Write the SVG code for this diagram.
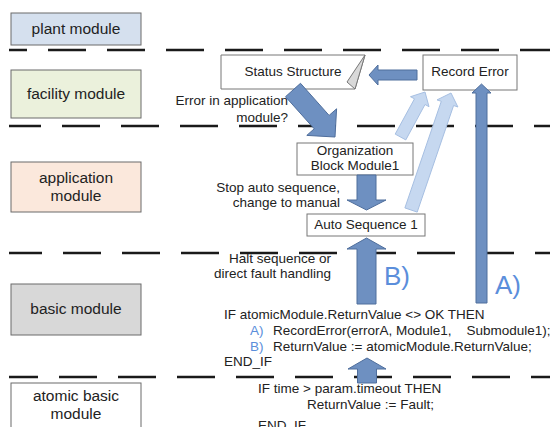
<svg xmlns="http://www.w3.org/2000/svg" width="550" height="427" viewBox="0 0 550 427">
<style>
text{font-family:"Liberation Sans",Arial,sans-serif;fill:#222}
.lab{font-size:15.5px;text-anchor:middle}
.t{font-size:13.5px}
.c{text-anchor:middle}
.e{text-anchor:end}
.big{font-size:26px;fill:#5b8edb}
.blue{fill:#5b8edb}
.lbox{stroke:#6b6b6b;stroke-width:1}
.rbox{fill:#fff;stroke:#777;stroke-width:1}
.dash{stroke:#1a1a1a;stroke-width:2.6;fill:none}
.dk{fill:#6e90c1;stroke:#4f6e9c;stroke-width:1}
.lt{fill:#c6d8f0;stroke:#a6bfe2;stroke-width:1}
</style>
<g id="separators">
<line class="dash" x1="9" y1="50" x2="550" y2="50" stroke-dasharray="38 21" stroke-dashoffset="20"/>
<line class="dash" x1="9" y1="126" x2="550" y2="126" stroke-dasharray="38 21" stroke-dashoffset="6"/>
<line class="dash" x1="9" y1="253" x2="550" y2="253" stroke-dasharray="38 21" stroke-dashoffset="5"/>
<line class="dash" x1="9" y1="377" x2="550" y2="377" stroke-dasharray="38 21" stroke-dashoffset="9"/>
</g>
<g id="plant-module"><rect class="lbox" x="11" y="13" width="130" height="32" fill="#d5e0ee"/><text class="lab" x="76" y="34">plant module</text></g>
<g id="facility-module"><rect class="lbox" x="11" y="70" width="130" height="48" fill="#ebf1dc"/><text class="lab" x="76" y="99">facility module</text></g>
<g id="application-module"><rect class="lbox" x="11" y="162" width="130" height="50" fill="#fbe8dc"/><text class="lab" x="76" y="183">application</text><text class="lab" x="76" y="201">module</text></g>
<g id="basic-module"><rect class="lbox" x="11" y="284" width="130" height="51" fill="#d8d8d8"/><text class="lab" x="76" y="314">basic module</text></g>
<g id="atomic-basic-module"><rect class="lbox" x="11" y="383" width="130" height="50" fill="#fff"/><text class="lab" x="76" y="401">atomic basic</text><text class="lab" x="76" y="419">module</text></g>
<g id="status-structure"><polygon class="rbox" points="221,55 365,55 355,89 221,89"/><polygon points="365,55 347,82 355,89" fill="#d9d9d9" stroke="#777" stroke-width="1"/><text class="t c" x="293" y="76">Status Structure</text></g>
<g id="record-error"><rect class="rbox" x="423" y="55" width="94" height="35"/><text class="t c" x="470" y="76">Record Error</text></g>
<g id="organization-block"><rect class="rbox" x="297" y="143" width="116" height="32"/><text class="t c" x="355" y="155">Organization</text><text class="t c" x="355" y="170">Block Module1</text></g>
<g id="auto-sequence"><rect class="rbox" x="307" y="214" width="118" height="22"/><text class="t c" x="366" y="229">Auto Sequence 1</text></g>
<g id="connectors">
<polygon class="dk" points="417,70 378,70 378,65 369,75 378,85 378,80 417,80"/>
<polygon class="dk" points="300.5,83.3 329.1,115.4 336.6,108.8 335,137 306.8,135.4 314.2,128.8 285.5,96.7"/>
<polygon class="lt" points="405.8,139.9 425.0,104.5 429.0,106.7 425,92 410.5,96.7 414.5,98.8 395.2,134.1"/>
<polygon class="lt" points="417.2,212.1 453.6,105.5 457.9,107.0 451,93 437.0,99.9 441.3,101.3 404.9,207.9"/>
<polygon class="dk" points="357,175 357,200 347,200 366.5,210 386,200 376,200 376,175"/>
<polygon class="dk" points="357,304 357,249 347,249 366.5,238 386,249 376,249 376,304"/>
<polygon class="dk" points="476,303 476,93 472,93 481.5,84 491,93 487,93 487,303"/>
<polygon class="dk" points="357.5,383 357.5,369 348,369 367,358 386,369 376.5,369 376.5,383"/>
</g>
<g id="labels">
<text class="t e" x="288" y="105">Error in application</text>
<text class="t e" x="288" y="122">module?</text>
<text class="t e" x="340" y="192">Stop auto sequence,</text>
<text class="t e" x="340" y="207">change to manual</text>
<text class="t e" x="331" y="263">Halt sequence or</text>
<text class="t e" x="331" y="278">direct fault handling</text>
<text class="big" x="384" y="285">B)</text>
<text class="big" x="495" y="294">A)</text>
</g>
<g id="code">
<text class="t" x="224" y="319">IF atomicModule.ReturnValue &lt;&gt; OK THEN</text>
<text class="t blue" x="250" y="335">A)</text>
<text class="t" x="273" y="335" xml:space="preserve" style="white-space:pre">RecordError(errorA, Module1,    Submodule1);</text>
<text class="t blue" x="250" y="351">B)</text>
<text class="t" x="273" y="351">ReturnValue := atomicModule.ReturnValue;</text>
<text class="t" x="224" y="366">END_IF</text>
<text class="t" x="258" y="393">IF time &gt; param.timeout THEN</text>
<text class="t" x="307" y="409">ReturnValue := Fault;</text>
<text class="t" x="258" y="430">END_IF</text>
</g>
</svg>
